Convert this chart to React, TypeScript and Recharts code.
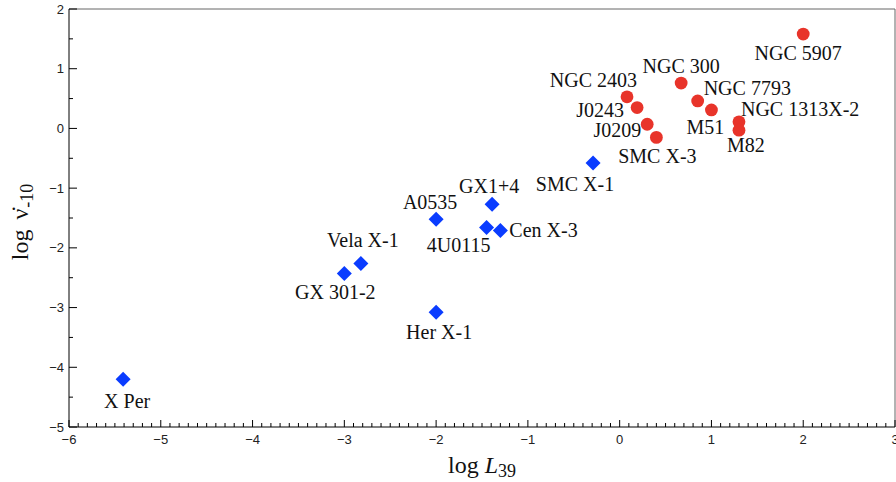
import React from 'react';
import { ScatterChart, Scatter, XAxis, YAxis, ReferenceLine, Label } from 'recharts';

// X-ray pulsars (blue diamonds)
const pulsarNames = ['X Per', 'GX 301-2', 'Vela X-1', 'Her X-1', 'A0535', 'GX1+4', '4U0115', 'Cen X-3', 'SMC X-1'];
const pulsarLogL = [-5.41, -3.0, -2.82, -2.0, -2.0, -1.39, -1.45, -1.3, -0.29];
const pulsarLogNu = [-4.2, -2.43, -2.26, -3.08, -1.52, -1.27, -1.66, -1.71, -0.58];

// ULX pulsars (red circles)
const ulxNames = ['NGC 5907', 'NGC 300', 'NGC 2403', 'J0243', 'NGC 7793', 'M51', 'J0209', 'SMC X-3', 'NGC 1313X-2', 'M82'];
const ulxLogL = [2.0, 0.67, 0.08, 0.19, 0.85, 1.0, 0.3, 0.4, 1.3, 1.3];
const ulxLogNu = [1.58, 0.76, 0.53, 0.35, 0.46, 0.31, 0.07, -0.15, 0.11, -0.03];

const xMajor = [-6, -5, -4, -3, -2, -1, 0, 1, 2, 3];
const yMajor = [-5, -4, -3, -2, -1, 0, 1, 2];

const pulsars = pulsarNames.map((name, i) => ({ name, x: pulsarLogL[i], y: pulsarLogNu[i] }));
const ulxs = ulxNames.map((name, i) => ({ name, x: ulxLogL[i], y: ulxLogNu[i] }));

// minor ticks: tenths on x, halves on y
const xTicks: number[] = [];
for (let i = 0; i < xMajor.length - 1; i++) {
  for (let k = 0; k < 10; k++) xTicks.push(Math.round((xMajor[i] + k / 10) * 10) / 10);
}
xTicks.push(xMajor[xMajor.length - 1]);
const yTicks: number[] = [];
for (let i = 0; i < yMajor.length - 1; i++) {
  yTicks.push(yMajor[i], yMajor[i] + 0.5);
}
yTicks.push(yMajor[yMajor.length - 1]);

// label placement relative to marker: [dx, dy, anchor]
const labelPos: Record<string, [number, number, string]> = {
  'X Per': [4, 22, 'middle'],
  'GX 301-2': [-9, 19, 'middle'],
  'Vela X-1': [2, -23, 'middle'],
  'Her X-1': [3, 20, 'middle'],
  'A0535': [-6, -17, 'middle'],
  'GX1+4': [-3, -18, 'middle'],
  '4U0115': [-28, 18, 'middle'],
  'Cen X-3': [9, 0, 'start'],
  'SMC X-1': [-18, 21, 'middle'],
  'NGC 5907': [-5, 19, 'middle'],
  'NGC 300': [0, -17, 'middle'],
  'NGC 2403': [10, -16, 'end'],
  'J0243': [-13, 3, 'end'],
  'NGC 7793': [6, -13, 'start'],
  'M51': [-6, 17, 'middle'],
  'J0209': [-6, 6, 'end'],
  'SMC X-3': [1, 19, 'middle'],
  'NGC 1313X-2': [2, -12, 'start'],
  'M82': [7, 15, 'middle'],
};

const serif = '"Liberation Serif", "Times New Roman", serif';
const sans = '"Liberation Sans", Arial, sans-serif';

const PointLabel = ({ cx, cy, name }: { cx: number; cy: number; name: string }) => {
  const [dx, dy, anchor] = labelPos[name] || [0, 18, 'middle'];
  return (
    <text x={cx + dx} y={cy + dy + 6.6} textAnchor={anchor as any} fontFamily={serif} fontSize={20} fill="#111">
      {name}
    </text>
  );
};

const Diamond = (props: any) => {
  const { cx, cy, payload } = props;
  const h = 7.5;
  return (
    <g>
      <polygon points={`${cx},${cy - h} ${cx + h},${cy} ${cx},${cy + h} ${cx - h},${cy}`} fill="#0a3cff" />
      <PointLabel cx={cx} cy={cy} name={payload.name} />
    </g>
  );
};

const Dot = (props: any) => {
  const { cx, cy, payload } = props;
  return (
    <g>
      <circle cx={cx} cy={cy} r={6.4} fill="#e8342a" />
      <PointLabel cx={cx} cy={cy} name={payload.name} />
    </g>
  );
};

const fmt = (v: number) => (v < 0 ? '\u2212' + Math.abs(v) : String(v));
const isMajor = (v: number) => Math.abs(v - Math.round(v)) < 1e-6;

const XTick = (props: any) => {
  const { x, y, payload } = props;
  const v = payload.value as number;
  const major = isMajor(v);
  return (
    <g>
      <line x1={x} x2={x} y1={y} y2={y - (major ? 7 : 4)} stroke="#000" />
      {major && (
        <text x={x} y={y + 17} textAnchor="middle" fontFamily={sans} fontSize={13} fill="#222">
          {fmt(v)}
        </text>
      )}
    </g>
  );
};

const YTick = (props: any) => {
  const { x, y, payload } = props;
  const v = payload.value as number;
  const major = isMajor(v);
  return (
    <g>
      <line x1={x} x2={x + (major ? 8 : 4)} y1={y} y2={y} stroke="#000" />
      {major && (
        <text x={x - 5} y={y + 4.6} textAnchor="end" fontFamily={sans} fontSize={13} fill="#222">
          {fmt(v)}
        </text>
      )}
    </g>
  );
};

const XLabel = (props: any) => {
  const { viewBox } = props;
  const cx = viewBox.x + viewBox.width / 2;
  return (
    <text x={cx} y={473} textAnchor="middle" fontFamily={serif} fontSize={24} fill="#111">
      log <tspan fontStyle="italic">L</tspan>
      <tspan fontSize={18} dy={4}>39</tspan>
    </text>
  );
};

const YLabel = () => {
  const cy = 222;
  const bx = 28;
  return (
    <text x={bx} y={cy} transform={`rotate(-90, ${bx}, ${cy})`} textAnchor="middle" fontFamily={serif} fontSize={24} fill="#111">
      log <tspan dx={4}>{'\u03BD\u0307'}</tspan>
      <tspan fontSize={18} dy={5} dx={1}>-10</tspan>
    </text>
  );
};

export default function App() {
  return (
    <div style={{ width: 896, height: 482, background: '#fff' }}>
      <style>{'body{margin:0}'}</style>
      <ScatterChart width={896} height={482} margin={{ top: 9, right: 1, bottom: 0, left: 0 }}>
        <XAxis
          type="number"
          dataKey="x"
          domain={[-6, 3]}
          ticks={xTicks}
          interval={0}
          tick={<XTick />}
          tickLine={false}
          tickSize={0}
          tickMargin={0}
          height={55}
          axisLine={{ stroke: '#000' }}
          allowDataOverflow
        >
          <Label content={<XLabel />} />
        </XAxis>
        <YAxis
          type="number"
          dataKey="y"
          domain={[-5, 2]}
          ticks={yTicks}
          interval={0}
          tick={<YTick />}
          tickLine={false}
          tickSize={0}
          tickMargin={0}
          width={69}
          axisLine={{ stroke: '#000' }}
          allowDataOverflow
        >
          <Label content={<YLabel />} />
        </YAxis>
        <ReferenceLine y={2} stroke="#666" />
        <ReferenceLine x={3} stroke="#666" />
        <Scatter data={pulsars} shape={<Diamond />} isAnimationActive={false} />
        <Scatter data={ulxs} shape={<Dot />} isAnimationActive={false} />
      </ScatterChart>
    </div>
  );
}
